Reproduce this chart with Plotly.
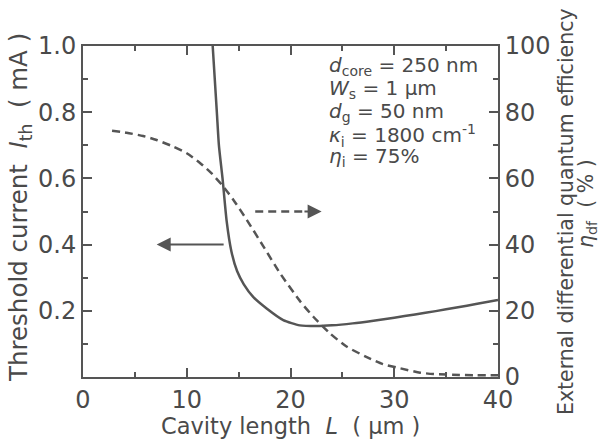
import plotly.graph_objects as go

# ---- data ----
L_ith = [12.5, 12.9, 13.1, 13.45, 13.85, 14.3, 14.85, 15.5, 16.4, 17.7, 19.3, 20.9,
         22.5, 24.0, 26.0, 28.0, 30.0, 32.0, 34.0, 36.0, 38.0, 40.0]
I_th = [1.00, 0.80, 0.70, 0.60, 0.47, 0.38, 0.32, 0.28, 0.242, 0.207, 0.172, 0.156,
        0.154, 0.156, 0.162, 0.170, 0.179, 0.189, 0.199, 0.210, 0.221, 0.233]

L_eta = [2.8, 4.2, 5.8, 7.1, 8.7, 10.0, 11.3, 12.4, 13.4, 14.5, 15.8, 17.4, 19.0,
         20.9, 22.2, 23.8, 25.4, 27.3, 28.9, 30.6, 32.5, 33.8, 36.3, 40.0]
eta_df = [74.4, 73.8, 72.8, 71.6, 69.6, 67.6, 64.6, 61.5, 58.0, 53.5, 47.4, 39.4, 31.3,
          23.0, 18.2, 13.2, 9.2, 6.1, 3.9, 2.6, 1.3, 0.9, 0.6, 0.5]

x_ticks = [0, 10, 20, 30, 40]
y_ticks = [0.2, 0.4, 0.6, 0.8, 1.0]
y2_ticks = [0, 20, 40, 60, 80, 100]

# arrow indicators (data units)
arrow_left = dict(y=0.4, x_from=13.7, x_to=7.1)
arrow_right = dict(y=50, x_from=16.6, x_mid=21.2, x_to=23.0)

params = [
    "<i>d</i><sub>core</sub> = 250 nm",
    "<i>W</i><sub>s</sub> = 1 μm",
    "<i>d</i><sub>g</sub> = 50 nm",
    "<i>κ</i><sub>i</sub> = 1800 cm<sup>-1</sup>",
    "<i>η</i><sub>i</sub> = 75%",
]

FONT = "DejaVu Sans"
C = "#4a4a4a"
LC = "#555555"

fig = go.Figure()
fig.add_trace(go.Scatter(x=L_ith, y=I_th, mode="lines",
                         line=dict(color=LC, width=2.5, shape="spline", smoothing=0.6),
                         showlegend=False))
fig.add_trace(go.Scatter(x=L_eta, y=eta_df, mode="lines", yaxis="y2",
                         line=dict(color=LC, width=2.5, dash="8px,5px", shape="spline", smoothing=0.6),
                         showlegend=False))

W, H = 604, 442
ml, mr, mt, mb = 83, 106, 46, 65
pw, ph = W - ml - mr, H - mt - mb


def px2x(px):
    return (px - ml) / pw


def px2y(py):
    return (H - mb - py) / ph


axis_common = dict(showline=True, linecolor=LC, linewidth=2, ticks="inside",
                   ticklen=9, tickwidth=1.5, tickcolor=LC, showgrid=False, zeroline=False,
                   automargin=False,
                   tickfont=dict(family=FONT, size=24, color=C))

fig.update_layout(
    width=W, height=H,
    margin=dict(l=ml, r=mr, t=mt, b=mb, autoexpand=False),
    paper_bgcolor="white", plot_bgcolor="white",
    xaxis=dict(range=[0, 40], tickvals=x_ticks, mirror="ticks",
               minor=dict(dtick=5, ticks="inside", ticklen=5, tickwidth=1.5, tickcolor=LC),
               **axis_common),
    yaxis=dict(range=[0, 1], tickvals=y_ticks, tickformat=".1f",
               minor=dict(dtick=0.1, ticks="inside", ticklen=5, tickwidth=1.5, tickcolor=LC),
               **axis_common),
    yaxis2=dict(range=[0, 100], tickvals=y2_ticks, overlaying="y", side="right",
                minor=dict(dtick=10, ticks="inside", ticklen=5, tickwidth=1.5, tickcolor=LC),
                **axis_common),
)

annos = []
# x title
annos.append(dict(text="Cavity length  <i>L</i>  ( μm )",
                  xref="paper", yref="paper", x=px2x(290), y=px2y(426),
                  xanchor="center", yanchor="middle", showarrow=False,
                  font=dict(family=FONT, size=22.5, color=C)))
# left title
annos.append(dict(text="Threshold current  <i>I</i><sub>th</sub>  ( mA )", textangle=-90,
                  xref="paper", yref="paper", x=px2x(20), y=px2y(208),
                  xanchor="center", yanchor="middle", showarrow=False,
                  font=dict(family=FONT, size=24.5, color=C)))
# right title (two lines)
annos.append(dict(text="External differential quantum efficiency",
                  textangle=-90, xref="paper", yref="paper", x=px2x(566), y=px2y(212),
                  xanchor="center", yanchor="middle", showarrow=False,
                  font=dict(family=FONT, size=20.5, color=C)))
annos.append(dict(text="<i>η</i><sub>df</sub>  ( % )",
                  textangle=-90, xref="paper", yref="paper", x=px2x(587), y=px2y(204),
                  xanchor="center", yanchor="middle", showarrow=False,
                  font=dict(family=FONT, size=20.5, color=C)))
# parameter text
line_y = [66, 89, 112, 135, 157]
for t, yy in zip(params, line_y):
    annos.append(dict(text=t, xref="paper", yref="paper", x=px2x(327), y=px2y(yy),
                      xanchor="left", yanchor="middle", showarrow=False,
                      font=dict(family=FONT, size=20, color=C)))
# solid arrow (towards left axis)
annos.append(dict(text="", x=arrow_left["x_to"], y=arrow_left["y"], xref="x", yref="y",
                  ax=arrow_left["x_from"], ay=arrow_left["y"], axref="x", ayref="y",
                  showarrow=True, arrowhead=2, arrowsize=1.4, arrowwidth=2, arrowcolor=LC))
# dashed arrow head (towards right axis)
annos.append(dict(text="", x=arrow_right["x_to"], y=arrow_right["y"], xref="x", yref="y2",
                  ax=arrow_right["x_mid"], ay=arrow_right["y"], axref="x", ayref="y2",
                  showarrow=True, arrowhead=2, arrowsize=1.4, arrowwidth=2, arrowcolor=LC))
fig.update_layout(annotations=annos)

fig.add_shape(type="line", xref="x", yref="y2",
              x0=arrow_right["x_from"], x1=arrow_right["x_mid"],
              y0=arrow_right["y"], y1=arrow_right["y"],
              line=dict(color=LC, width=2.5, dash="8px,5px"))

fig.write_html("out.html", config={"displayModeBar": False},
               post_script="document.body.style.margin='0';")
